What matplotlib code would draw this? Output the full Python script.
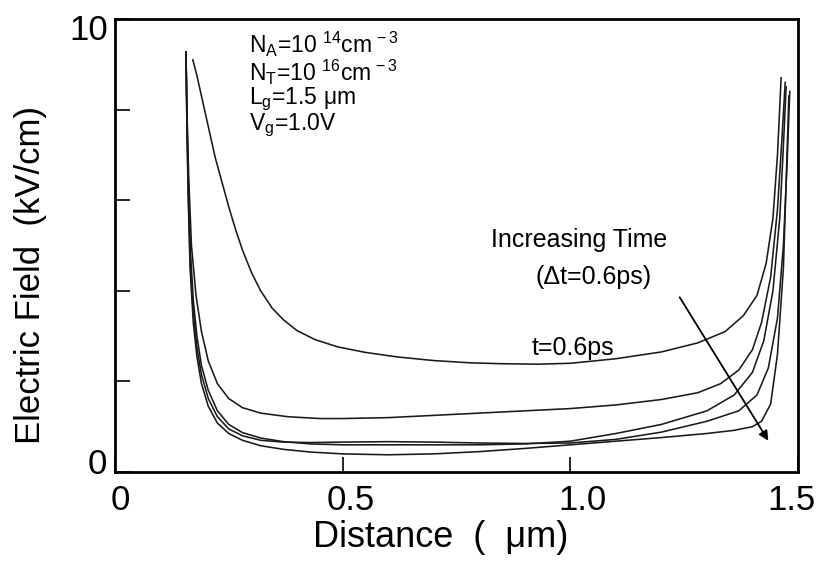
import numpy as np
import matplotlib.pyplot as plt
from matplotlib.transforms import ScaledTranslation

# electric field profiles along the channel, one curve per time step (dt = 0.6 ps)
x1 = [0.171, 0.18, 0.19, 0.20, 0.21, 0.22, 0.235, 0.25, 0.265, 0.28, 0.30, 0.32, 0.345,
      0.37, 0.40, 0.44, 0.49, 0.55, 0.62, 0.70, 0.78, 0.85, 0.93, 1.0, 1.1, 1.2, 1.28,
      1.34, 1.38, 1.41, 1.43, 1.445, 1.455, 1.463]
y1 = [9.1, 8.75, 8.3, 7.85, 7.4, 6.95, 6.4, 5.85, 5.35, 4.9, 4.4, 4.0, 3.62,
      3.36, 3.12, 2.92, 2.76, 2.64, 2.54, 2.46, 2.41, 2.39, 2.38, 2.40, 2.5, 2.65, 2.85,
      3.1, 3.45, 3.9, 4.6, 5.6, 7.0, 8.7]

x2 = [0.156, 0.158, 0.162, 0.168, 0.178, 0.19, 0.205, 0.225, 0.25, 0.28, 0.32, 0.38, 0.45,
      0.5, 0.6, 0.7, 0.8, 0.9, 1.0, 1.1, 1.2, 1.28, 1.33, 1.37, 1.40, 1.42, 1.44, 1.455,
      1.465, 1.472]
y2 = [9.27, 8.0, 6.5, 5.0, 3.9, 3.1, 2.45, 1.95, 1.62, 1.42, 1.3, 1.22, 1.18,
      1.18, 1.2, 1.25, 1.3, 1.35, 1.4, 1.48, 1.6, 1.75, 1.95, 2.25, 2.7, 3.3, 4.3, 5.8,
      7.4, 8.6]

x3 = [0.156, 0.158, 0.161, 0.165, 0.172, 0.18, 0.19, 0.205, 0.225, 0.25, 0.28, 0.32, 0.37,
      0.43, 0.5, 0.6, 0.7, 0.8, 0.9, 1.0, 1.1, 1.2, 1.3, 1.36, 1.40, 1.425, 1.445, 1.46,
      1.468, 1.474]
y3 = [9.27, 8.0, 6.5, 5.0, 3.8, 3.0, 2.35, 1.8, 1.35, 1.05, 0.87, 0.75, 0.67,
      0.62, 0.6, 0.6, 0.6, 0.6, 0.62, 0.68, 0.85, 1.05, 1.35, 1.7, 2.2, 2.9, 4.0, 5.6,
      7.2, 8.5]

x4 = [0.156, 0.158, 0.161, 0.165, 0.172, 0.18, 0.19, 0.205, 0.225, 0.25, 0.28, 0.32, 0.37,
      0.43, 0.5, 0.6, 0.7, 0.8, 0.9, 1.0, 1.1, 1.2, 1.3, 1.37, 1.41, 1.435, 1.455, 1.468,
      1.476, 1.482]
y4 = [9.27, 7.8, 6.2, 4.7, 3.5, 2.75, 2.15, 1.62, 1.22, 0.95, 0.8, 0.7, 0.66,
      0.65, 0.66, 0.67, 0.66, 0.64, 0.63, 0.64, 0.72, 0.88, 1.12, 1.35, 1.7, 2.3, 3.4, 5.0,
      6.8, 8.4]

x5 = [0.156, 0.158, 0.161, 0.165, 0.172, 0.18, 0.19, 0.205, 0.225, 0.25, 0.28, 0.32, 0.37,
      0.43, 0.5, 0.6, 0.7, 0.8, 0.9, 1.0, 1.1, 1.2, 1.3, 1.36, 1.40, 1.42, 1.44, 1.455,
      1.468, 1.48]
y5 = [9.27, 7.6, 6.0, 4.5, 3.3, 2.55, 1.95, 1.45, 1.08, 0.85, 0.7, 0.58, 0.5,
      0.44, 0.4, 0.38, 0.4, 0.45, 0.52, 0.6, 0.68, 0.76, 0.85, 0.92, 1.0, 1.12, 1.5, 2.6,
      4.5, 8.3]

curves = [(x1, y1), (x2, y2), (x3, y3), (x4, y4), (x5, y5)]

xticks = [0, 0.5, 1.0, 1.5]
xtick_labels = ["0", "0.5", "1.0", "1.5"]
yticks = [0, 2, 4, 6, 8, 10]
ytick_labels = ["0", "", "", "", "", "10"]

params = [r"N$_\mathrm{A}$=10 $^{14}$cm$^{\,-3}$",
          r"N$_\mathrm{T}$=10 $^{16}$cm$^{\,-3}$",
          r"L$_\mathrm{g}$=1.5 μm",
          r"V$_\mathrm{g}$=1.0V"]

plt.rcParams['font.family'] = ['Liberation Sans', 'DejaVu Sans']
plt.rcParams['mathtext.fontset'] = 'custom'
plt.rcParams['mathtext.rm'] = 'Liberation Sans'
plt.rcParams['mathtext.it'] = 'Liberation Sans:italic'

fig = plt.figure(figsize=(8.27, 5.65), dpi=100)
ax = fig.add_axes([0.139, 0.1646, 0.8259, 0.8018])

for xs, ys in curves:
    ax.plot(xs, ys, color='#1a1a1a', linewidth=1.15)

ax.set_xlim(0, 1.5)
ax.set_ylim(0, 10)
ax.set_xticks(xticks)
ax.set_xticklabels(xtick_labels)
ax.set_yticks(yticks)
ax.set_yticklabels(ytick_labels)
ax.tick_params(direction='in', length=11, width=1.2, labelsize=25, pad=6)
for sp in ax.spines.values():
    sp.set_linewidth(2)

# nudge tick labels to where the original places them (pixels)
def nudge(lbl, dx, dy):
    lbl.set_transform(lbl.get_transform() + ScaledTranslation(dx / 100, dy / 100, fig.dpi_scale_trans))

xl = ax.get_xticklabels()
for lbl, dx in zip(xl, [5, 8, 12, -6]):
    nudge(lbl, dx, -4)
yl = ax.get_yticklabels()
nudge(yl[0], 0, 11)
nudge(yl[-1], 2, -8)

ax.set_xlabel("Distance  (  μm)", fontsize=26)
ax.xaxis.set_label_coords(0.477, -0.105)
ax.set_ylabel("Electric Field  (kV/cm)", fontsize=25, va='center')
ax.yaxis.set_label_coords(-0.124, 0.435)

# parameter block
ax.text(0.295, 9.75, "\n".join(params), fontsize=16.5, va='top', linespacing=0.92)

ax.text(1.02, 5.12, "Increasing Time", fontsize=18, ha='center', va='center')
ax.text(1.05, 4.3, "(Δt=0.6ps)", fontsize=18, ha='center', va='center')
ax.text(1.005, 2.74, "t=0.6ps", fontsize=18, ha='center', va='center')

ax.annotate('', xy=(1.438, 0.64), xytext=(1.237, 3.91),
            arrowprops=dict(arrowstyle='-|>', lw=1.3, color='k', mutation_scale=14))

fig.savefig("out.png", dpi=100)
